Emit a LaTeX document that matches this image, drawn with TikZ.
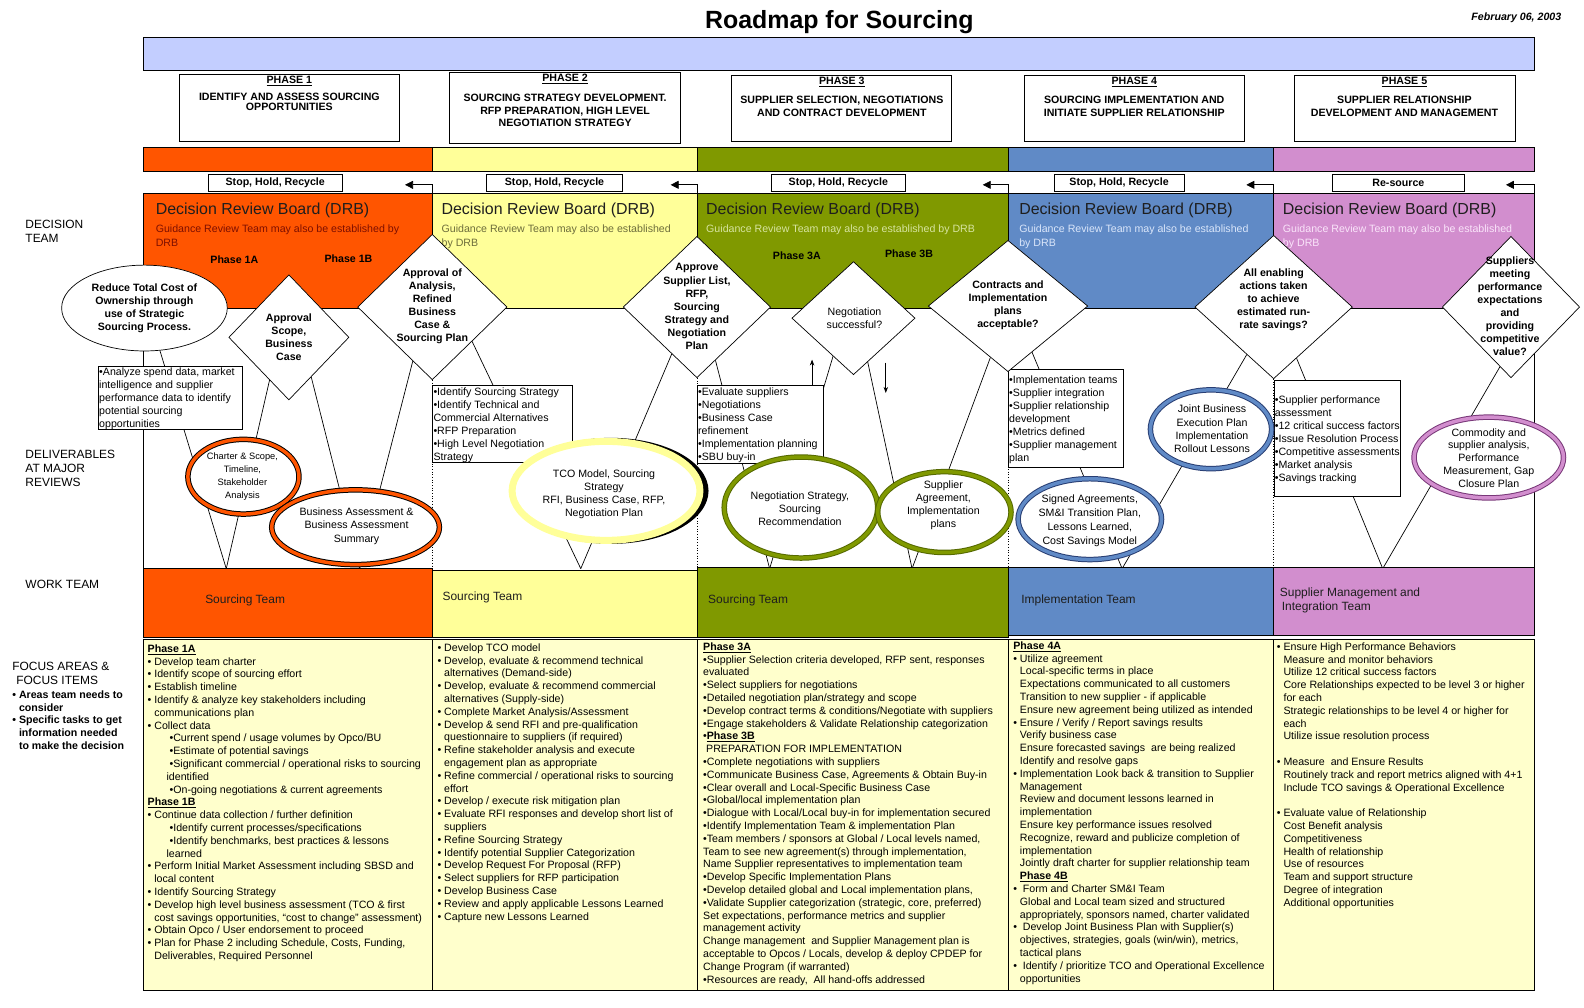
\documentclass[tikz,border=0pt]{standalone}
\usepackage{fontspec}
\setmainfont{Liberation Sans}
\usetikzlibrary{shapes.geometric,arrows.meta,calc}
\pgfdeclarelayer{back}
\pgfdeclarelayer{bg}
\pgfsetlayers{back,bg,main}
\definecolor{cOr}{RGB}{255,85,0}
\definecolor{cYe}{RGB}{255,255,153}
\definecolor{cGr}{RGB}{128,153,0}
\definecolor{cBl}{RGB}{96,138,198}
\definecolor{cPk}{RGB}{210,142,206}
\definecolor{cFoc}{RGB}{255,255,204}
\definecolor{cBar}{RGB}{195,206,255}
\definecolor{cGrD}{RGB}{85,105,0}
\definecolor{cNavy}{RGB}{40,62,115}
\definecolor{cPkD}{RGB}{120,55,120}
\definecolor{sub1}{RGB}{125,15,0}
\definecolor{sub2}{RGB}{110,110,60}
\definecolor{sub3}{RGB}{215,228,160}
\definecolor{sub4}{RGB}{218,230,250}
\definecolor{sub5}{RGB}{250,228,250}
\definecolor{ttl}{RGB}{30,30,30}
\newcommand\fs{\fontsize{10.67}{12.85}\selectfont}
\newcommand\fsb{\fontsize{10.67}{13.1}\selectfont}
\newcommand\fl{\fontsize{12}{14.1}\selectfont}
\newcommand\cn{\hspace*{6.7pt}}
\newcommand\sbi{\hspace*{22pt}}
\newcommand\sbc{\hspace*{19pt}}
\begin{document}
\begin{tikzpicture}[x=1.01bp,y=-1.01bp,
  mw/.style={minimum width=#1*1.01bp},
  mh/.style={minimum height=#1*1.01bp},
  bx/.style={draw, fill=white, line width=0.7pt, inner sep=0pt},
  dia/.style={shape=diamond, draw, fill=white, line width=0.7pt, inner sep=0pt},
  txt/.style={inner sep=0pt, align=left, font=\fs},
  ctxt/.style={inner sep=0pt, align=center, font=\fs},
  dtxt/.style={inner sep=0pt, align=center, font=\fsb\bfseries},
  conn/.style={line width=0.7pt},
  ring/.style 2 args={ellipse, fill=white, draw=#2, line width=5.5pt, inner sep=0pt, postaction={draw=#1, line width=3.5pt}},
  stopbox/.style={draw, fill=white, line width=0.7pt, inner sep=0pt, mh=16, font=\fs\bfseries},
  pbox/.style={draw, fill=white, line width=0.7pt, inner sep=0pt, anchor=north west},
  cell/.style={draw, line width=0.7pt},
  drbt/.style={anchor=west, inner sep=0pt, font=\fontsize{16}{18}\selectfont, text=ttl},
  drbs/.style={anchor=north west, inner sep=0pt, align=left, font=\fontsize{10.67}{14.6}\selectfont},
  phl/.style={inner sep=0pt, font=\fs\bfseries},
  wtl/.style={anchor=west, inner sep=0pt, font=\fl, text=ttl},
  stoparrow/.style={conn, -{Triangle[length=8pt,width=8pt]}},
  smallarrow/.style={conn, -{Stealth[length=6pt,width=4.5pt]}}
]
\begin{pgfonlayer}{back}
\fill[white] (1.98,0) rectangle (1570.3,998);
% DRB areas
\draw[cell, fill=cOr] (144,191) rectangle (430,305);
\draw[cell, fill=cYe] (430,191) rectangle (692,305);
\draw[cell, fill=cGr] (692,191) rectangle (1000,305);
\draw[cell, fill=cBl] (1000,191) rectangle (1263,305);
\draw[cell, fill=cPk] (1263,191) rectangle (1521,305);
\end{pgfonlayer}
\useasboundingbox (1.98,0) rectangle (1570.3,998);

% title
\node[font=\fontsize{25}{29}\selectfont\bfseries, inner sep=0pt] (title) at (833,22) {Roadmap for Sourcing};
\node[font=\fs\bfseries\itshape, anchor=east, inner sep=0pt] (date) at (1548,18) {February 06, 2003};

% blue bar
\node[draw, fill=cBar, line width=0.7pt, mw=1377, mh=32, inner sep=0pt, anchor=north west] (bar) at (144,37) {};

% phase boxes
\node[pbox, mw=218, mh=67] (p1) at (179,73) {};
\node[phl] (p1h) at (288.5,80) {\underline{PHASE 1}};
\node[ctxt, anchor=north, font=\fontsize{10.67}{10}\selectfont\bfseries] (p1t) at (288.5,92) {IDENTIFY AND ASSESS SOURCING\\OPPORTUNITIES};
\node[pbox, mw=228, mh=71] (p2) at (447,71) {};
\node[phl] (p2h) at (561.5,78) {\underline{PHASE 2}};
\node[ctxt, anchor=north, font=\fontsize{10.67}{12.5}\selectfont\bfseries] (p2t) at (561.5,93) {SOURCING STRATEGY DEVELOPMENT.\\RFP PREPARATION, HIGH LEVEL\\NEGOTIATION STRATEGY};
\node[pbox, mw=218, mh=66] (p3) at (726,74) {};
\node[phl] (p3h) at (835.5,81) {\underline{PHASE 3}};
\node[ctxt, anchor=north, font=\fontsize{10.67}{13}\selectfont\bfseries] (p3t) at (835.5,95) {SUPPLIER SELECTION, NEGOTIATIONS\\AND CONTRACT DEVELOPMENT};
\node[pbox, mw=218, mh=66] (p4) at (1016,74) {};
\node[phl] (p4h) at (1125,81) {\underline{PHASE 4}};
\node[ctxt, anchor=north, font=\fontsize{10.67}{13}\selectfont\bfseries] (p4t) at (1125,95) {SOURCING IMPLEMENTATION AND\\INITIATE SUPPLIER RELATIONSHIP};
\node[pbox, mw=219, mh=66] (p5) at (1283,74) {};
\node[phl] (p5h) at (1392.5,81) {\underline{PHASE 5}};
\node[ctxt, anchor=north, font=\fontsize{10.67}{13}\selectfont\bfseries] (p5t) at (1392.5,95) {SUPPLIER RELATIONSHIP\\DEVELOPMENT AND MANAGEMENT};

% colour bar
\draw[cell, fill=cOr] (144,146) rectangle (430,170);
\draw[cell, fill=cYe] (430,146) rectangle (692,170);
\draw[cell, fill=cGr] (692,146) rectangle (1000,170);
\draw[cell, fill=cBl] (1000,146) rectangle (1263,170);
\draw[cell, fill=cPk] (1263,146) rectangle (1521,170);

% stop boxes
\node[stopbox, mw=132] (s1) at (274.5,181) {Stop, Hold, Recycle};
\node[stopbox, mw=135] (s2) at (551,181) {Stop, Hold, Recycle};
\node[stopbox, mw=133] (s3) at (832,181) {Stop, Hold, Recycle};
\node[stopbox, mw=129] (s4) at (1110,181) {Stop, Hold, Recycle};
\node[stopbox, mw=130] (s5) at (1386.5,181) {Re-source};
\coordinate (a1s) at (430,191); \coordinate (a1e) at (403,183);
\coordinate (a2s) at (692,191); \coordinate (a2e) at (666,183);
\coordinate (a3s) at (1000,191); \coordinate (a3e) at (975,183);
\coordinate (a4s) at (1263,191); \coordinate (a4e) at (1236,183);
\coordinate (a5s) at (1521,191); \coordinate (a5e) at (1493,183);
\draw[stoparrow] (a1s) |- (a1e);
\draw[stoparrow] (a2s) |- (a2e);
\draw[stoparrow] (a3s) |- (a3e);
\draw[stoparrow] (a4s) |- (a4e);
\draw[stoparrow] (a5s) |- (a5e);

% DRB texts
\node[drbt] (t1) at (156,208) {Decision Review Board (DRB)};
\node[drbs, text=sub1] (g1) at (156,222) {Guidance Review Team may also be established by\\DRB};
\node[drbt] (t2) at (439,208) {Decision Review Board (DRB)};
\node[drbs, text=sub2] (g2) at (439,222) {Guidance Review Team may also be established\\by DRB};
\node[drbt] (t3) at (701,208) {Decision Review Board (DRB)};
\node[drbs, text=sub3] (g3) at (701,222) {Guidance Review Team may also be established by DRB};
\node[drbt] (t4) at (1011,208) {Decision Review Board (DRB)};
\node[drbs, text=sub4] (g4) at (1011,222) {Guidance Review Team may also be established\\by DRB};
\node[drbt] (t5) at (1272,208) {Decision Review Board (DRB)};
\node[drbs, text=sub5] (g5) at (1272,222) {Guidance Review Team may also be established\\by DRB};
\node[phl] (ph1a) at (234,257) {Phase 1A};
\node[phl] (ph1b) at (347,256) {Phase 1B};
\node[phl] (ph3a) at (791,253) {Phase 3A};
\node[phl] (ph3b) at (902,251) {Phase 3B};

% left labels
\node[anchor=north west, inner sep=0pt, align=left, font=\fl] (ldec) at (27,218) {DECISION\\TEAM};
\node[anchor=north west, inner sep=0pt, align=left, font=\fl] (ldel) at (27,445.5) {DELIVERABLES\\AT MAJOR\\REVIEWS};
\node[anchor=west, inner sep=0pt, font=\fl] (lwork) at (27,579) {WORK TEAM};
\node[anchor=north west, inner sep=0pt, align=left, font=\fl] (lfoc) at (14,655.5) {FOCUS AREAS \&\\\hspace*{4pt}FOCUS ITEMS};
\node[anchor=north west, inner sep=0pt, align=left, font=\fontsize{10.67}{12.9}\selectfont\bfseries] (lfocb) at (14,683.5) {• Areas team needs to\\\cn consider\\• Specific tasks to get\\\cn information needed\\\cn to make the decision};

% reduce ellipse
\node[ellipse, draw, fill=white, line width=0.7pt, inner sep=0pt, mw=164, mh=85] (red) at (145,305) {};
\node[dtxt] at (red) {Reduce Total Cost of\\Ownership through\\use of Strategic\\Sourcing Process.};

% boxes
\node[bx, anchor=north west, mw=143, mh=63] (b1) at (99,362) {};
\node[txt, anchor=north west, font=\fontsize{10.67}{13.1}\selectfont] at (100,364) {•Analyze spend data, market\\intelligence and supplier\\performance data to identify\\potential sourcing\\opportunities};
\node[bx, anchor=north west, mw=138, mh=76] (b2) at (430,381) {};
\node[txt, anchor=north west, font=\fontsize{10.67}{12.95}\selectfont] at (431,384) {•Identify Sourcing Strategy\\•Identify Technical and\\Commercial Alternatives\\•RFP Preparation\\•High Level Negotiation\\Strategy};
\node[bx, anchor=north west, mw=125, mh=77] (b3) at (692,381) {};
\node[txt, anchor=north west, font=\fontsize{10.67}{12.95}\selectfont] at (693,384) {•Evaluate suppliers\\•Negotiations\\•Business Case\\refinement\\•Implementation planning\\•SBU buy-in};
\node[bx, anchor=north west, mw=114, mh=97] (b4) at (1000,365) {};
\node[txt, anchor=north west, font=\fontsize{10.67}{12.95}\selectfont] at (1001,372) {•Implementation teams\\•Supplier integration\\•Supplier relationship\\development\\•Metrics defined\\•Supplier management\\plan};
\node[bx, anchor=north west, mw=125, mh=115] (b5) at (1263,376) {};
\node[txt, anchor=north west, font=\fontsize{10.67}{12.95}\selectfont] at (1264,392) {•Supplier performance\\assessment\\•12 critical success factors\\•Issue Resolution Process\\•Competitive assessments\\•Market analysis\\•Savings tracking};

% deliverable ellipses
\node[ring={cOr}{black}, mw=110, mh=74] (e1) at (243,472) {};
\node[ctxt, font=\fontsize{9.3}{13.1}\selectfont] at (242,471.5) {Charter \& Scope,\\Timeline,\\Stakeholder\\Analysis};
\node[ring={cOr}{black}, mw=166, mh=74] (e2) at (354,522) {};
\node[ctxt, font=\fontsize{10.67}{13.1}\selectfont] at (355,521) {Business Assessment \&\\Business Assessment\\Summary};
\node[ellipse, fill=black, inner sep=0pt, mw=193, mh=105] (e3s) at (607,486) {};
\node[ellipse, fill=white, draw=cYe, line width=7pt, inner sep=0pt, mw=186, mh=98] (e3) at (602,486) {};
\node[ctxt, font=\fontsize{10.67}{13.1}\selectfont] at (600,489.5) {TCO Model, Sourcing\\Strategy\\RFI, Business Case, RFP,\\Negotiation Plan};
\node[ring={cGr}{cGrD}, mw=152, mh=100] (e4) at (795,502.5) {};
\node[ctxt, font=\fontsize{10.67}{13.1}\selectfont] at (794,504) {Negotiation Strategy,\\Sourcing\\Recommendation};
\node[ring={cGr}{cGrD}, mw=132, mh=80] (e5) at (937,507) {};
\node[ctxt, font=\fontsize{10.67}{13.1}\selectfont] at (936,500.5) {Supplier\\Agreement,\\Implementation\\plans};
\node[ring={cBl}{cNavy}, mw=142, mh=80] (e6) at (1081,514) {};
\node[ctxt, font=\fontsize{10.67}{14.1}\selectfont] at (1081,515.5) {Signed Agreements,\\SM\&I Transition Plan,\\Lessons Learned,\\Cost Savings Model};
\node[ring={cBl}{cNavy}, mw=120, mh=78] (e7) at (1201,425) {};
\node[ctxt, font=\fontsize{10.67}{13.1}\selectfont] at (1202,424.5) {Joint Business\\Execution Plan\\Implementation\\Rollout Lessons};
\node[ring={cPk}{cPkD}, mw=148, mh=80] (e8) at (1476,453) {};
\node[ctxt, font=\fontsize{10.67}{12.9}\selectfont] at (1476,453.5) {Commodity and\\supplier analysis,\\Performance\\Measurement, Gap\\Closure Plan};

% diamonds
\node[dia, mw=119, mh=124] (d1) at (288,334) {};
\node[dtxt] at (288,333.5) {Approval\\Scope,\\Business\\Case};
\node[dia, mw=148, mh=144] (d2) at (430,304) {};
\node[dtxt] at (430,303) {Approval of\\Analysis,\\Refined\\Business\\Case \&\\Sourcing Plan};
\node[dia, mw=146, mh=140] (d3) at (692,304) {};
\node[dtxt] at (692,303.5) {Approve\\Supplier List,\\RFP,\\Sourcing\\Strategy and\\Negotiation\\Plan};
\node[dia, mw=122, mh=112] (dn) at (847,315) {};
\node[ctxt, font=\fsb] at (848,315.5) {Negotiation\\successful?};
\node[dia, mw=158, mh=130] (d4) at (1000,303) {};
\node[dtxt] at (1000,302.5) {Contracts and\\Implementation\\plans\\acceptable?};
\node[dia, mw=156, mh=142] (d5) at (1263,304) {};
\node[dtxt] at (1263,297) {All enabling\\actions taken\\to achieve\\estimated run-\\rate savings?};
\node[dia, mw=136, mh=140] (d6) at (1498,304) {};
\node[dtxt] at (1497,303) {Suppliers\\meeting\\performance\\expectations\\and\\providing\\competitive\\value?};

% V points
\coordinate (v1a) at (226,563);
\coordinate (v1b) at (358,563);
\coordinate (v2) at (577,563);
\coordinate (v3a) at (764,563);
\coordinate (v3b) at (905,563);
\coordinate (v4) at (1113,563);
\coordinate (v5) at (1371,563);

\begin{pgfonlayer}{bg}
\draw[conn] (144,305) -- (144,563);
\draw[conn] (1521,305) -- (1521,563);
\draw[dotted, line width=0.7pt] (d2.south) -- (430,563);
\draw[dotted, line width=0.7pt] (d3.south) -- (692,563);
\draw[dotted, line width=0.7pt] (d4.south) -- (1000,563);
\draw[dotted, line width=0.7pt] (d5.south) -- (1263,563);
\draw[conn] (red.290) -- (v1a);
\draw[conn] ($(d1.west)!0.68!(d1.south)$) -- (v1a);
\draw[conn] ($(d1.east)!0.63!(d1.south)$) -- (v1b);
\draw[conn] ($(d2.west)!0.74!(d2.south)$) -- (v1b);
\draw[conn] ($(d2.east)!0.47!(d2.south)$) -- (v2);
\draw[conn] ($(d3.west)!0.66!(d3.south)$) -- (v2);
\draw[conn] ($(d3.east)!0.75!(d3.south)$) -- (v3a);
\draw[conn] ($(dn.west)!0.67!(dn.south)$) -- (v3a);
\draw[conn] ($(dn.east)!0.77!(dn.south)$) -- (v3b);
\draw[conn] ($(d4.west)!0.78!(d4.south)$) -- (v3b);
\draw[conn] ($(d4.east)!0.70!(d4.south)$) -- (v4);
\draw[conn] ($(d5.west)!0.66!(d5.south)$) -- (v4);
\draw[conn] ($(d5.east)!0.71!(d5.south)$) -- (v5);
\draw[conn] ($(d6.west)!0.84!(d6.south)$) -- (v5);
\end{pgfonlayer}

% small arrows in phase 3
\coordinate (up1) at (806,381); \coordinate (up2) at (806,356);
\coordinate (dw1) at (879,359); \coordinate (dw2) at (879,389);
\draw[smallarrow] (up1) -- (up2);
\draw[smallarrow] (dw1) -- (dw2);

% work team
\draw[cell, fill=cOr] (144,563) rectangle (430,631);
\draw[cell, fill=cYe] (430,565) rectangle (692,631);
\draw[cell, fill=cGr] (692,562) rectangle (1000,631);
\draw[cell, fill=cBl] (1000,562) rectangle (1263,629);
\draw[cell, fill=cPk] (1263,562) rectangle (1521,629);
\node[wtl] (w1) at (205,594) {Sourcing Team};
\node[wtl] (w2) at (440,591) {Sourcing Team};
\node[wtl] (w3) at (703,594) {Sourcing Team};
\node[wtl] (w4) at (1013,594) {Implementation Team};
\node[anchor=north west, inner sep=0pt, align=left, font=\fl, text=ttl] (w5) at (1269,581.5) {Supplier Management and\\\hspace*{2pt}Integration Team};

% focus boxes
\draw[cell, fill=cFoc] (144,633) rectangle (430,981);
\draw[cell, fill=cFoc] (430,633) rectangle (692,981);
\draw[cell, fill=cFoc] (692,633) rectangle (1000,981);
\draw[cell, fill=cFoc] (1000,633) rectangle (1263,981);
\draw[cell, fill=cFoc] (1263,633) rectangle (1521,981);

\node[txt, anchor=north west] (f1) at (148,638) {\underline{\textbf{Phase 1A}}\\
• Develop team charter\\
• Identify scope of sourcing effort\\
• Establish timeline\\
• Identify \& analyze key stakeholders including\\
\cn communications plan\\
• Collect data\\
\sbi•Current spend / usage volumes by Opco/BU\\
\sbi•Estimate of potential savings\\
\sbi•Significant commercial / operational risks to sourcing\\
\sbc identified\\
\sbi•On-going negotiations \& current agreements\\
\underline{\textbf{Phase 1B}}\\
• Continue data collection / further definition\\
\sbi•Identify current processes/specifications\\
\sbi•Identify benchmarks, best practices \& lessons\\
\sbc learned\\
• Perform Initial Market Assessment including SBSD and\\
\cn local content\\
• Identify Sourcing Strategy\\
• Develop high level business assessment (TCO \& first\\
\cn cost savings opportunities, “cost to change” assessment)\\
• Obtain Opco / User endorsement to proceed\\
• Plan for Phase 2 including Schedule, Costs, Funding,\\
\cn Deliverables, Required Personnel};

\node[txt, anchor=north west] (f2) at (435,637) {• Develop TCO model\\
• Develop, evaluate \& recommend technical\\
\cn alternatives (Demand-side)\\
• Develop, evaluate \& recommend commercial\\
\cn alternatives (Supply-side)\\
• Complete Market Analysis/Assessment\\
• Develop \& send RFI and pre-qualification\\
\cn questionnaire to suppliers (if required)\\
• Refine stakeholder analysis and execute\\
\cn engagement plan as appropriate\\
• Refine commercial / operational risks to sourcing\\
\cn effort\\
• Develop / execute risk mitigation plan\\
• Evaluate RFI responses and develop short list of\\
\cn suppliers\\
• Refine Sourcing Strategy\\
• Identify potential Supplier Categorization\\
• Develop Request For Proposal (RFP)\\
• Select suppliers for RFP participation\\
• Develop Business Case\\
• Review and apply applicable Lessons Learned\\
• Capture new Lessons Learned};

\node[txt, anchor=north west] (f3) at (698,636) {\underline{\textbf{Phase 3A}}\\
•Supplier Selection criteria developed, RFP sent, responses\\
evaluated\\
•Select suppliers for negotiations\\
•Detailed negotiation plan/strategy and scope\\
•Develop contract terms \& conditions/Negotiate with suppliers\\
•Engage stakeholders \& Validate Relationship categorization\\
•\underline{\textbf{Phase 3B}}\\
\hspace*{3pt}PREPARATION FOR IMPLEMENTATION\\
•Complete negotiations with suppliers\\
•Communicate Business Case, Agreements \& Obtain Buy-in\\
•Clear overall and Local-Specific Business Case\\
•Global/local implementation plan\\
•Dialogue with Local/Local buy-in for implementation secured\\
•Identify Implementation Team \& implementation Plan\\
•Team members / sponsors at Global / Local levels named,\\
Team to see new agreement(s) through implementation,\\
Name Supplier representatives to implementation team\\
•Develop Specific Implementation Plans\\
•Develop detailed global and Local implementation plans,\\
•Validate Supplier categorization (strategic, core, preferred)\\
Set expectations, performance metrics and supplier\\
management activity\\
Change management \ and Supplier Management plan is\\
acceptable to Opcos / Locals, develop \& deploy CPDEP for\\
Change Program (if warranted)\\
•Resources are ready, \ All hand-offs addressed};

\node[txt, anchor=north west] (f4) at (1005,635) {\underline{\textbf{Phase 4A}}\\
• Utilize agreement\\
\cn Local-specific terms in place\\
\cn Expectations communicated to all customers\\
\cn Transition to new supplier - if applicable\\
\cn Ensure new agreement being utilized as intended\\
• Ensure / Verify / Report savings results\\
\cn Verify business case\\
\cn Ensure forecasted savings \ are being realized\\
\cn Identify and resolve gaps\\
• Implementation Look back \& transition to Supplier\\
\cn Management\\
\cn Review and document lessons learned in\\
\cn implementation\\
\cn Ensure key performance issues resolved\\
\cn Recognize, reward and publicize completion of\\
\cn implementation\\
\cn Jointly draft charter for supplier relationship team\\
\cn\underline{\textbf{Phase 4B}}\\
•\ \ Form and Charter SM\&I Team\\
\cn Global and Local team sized and structured\\
\cn appropriately, sponsors named, charter validated\\
•\ \ Develop Joint Business Plan with Supplier(s)\\
\cn objectives, strategies, goals (win/win), metrics,\\
\cn tactical plans\\
•\ \ Identify / prioritize TCO and Operational Excellence\\
\cn opportunities};

\node[txt, anchor=north west] (f5) at (1266,636) {• Ensure High Performance Behaviors\\
\cn Measure and monitor behaviors\\
\cn Utilize 12 critical success factors\\
\cn Core Relationships expected to be level 3 or higher\\
\cn for each\\
\cn Strategic relationships to be level 4 or higher for\\
\cn each\\
\cn Utilize issue resolution process\\
\mbox{}\\
• Measure \ and Ensure Results\\
\cn Routinely track and report metrics aligned with 4+1\\
\cn Include TCO savings \& Operational Excellence\\
\mbox{}\\
• Evaluate value of Relationship\\
\cn Cost Benefit analysis\\
\cn Competitiveness\\
\cn Health of relationship\\
\cn Use of resources\\
\cn Team and support structure\\
\cn Degree of integration\\
\cn Additional opportunities};
\end{tikzpicture}
\end{document}
